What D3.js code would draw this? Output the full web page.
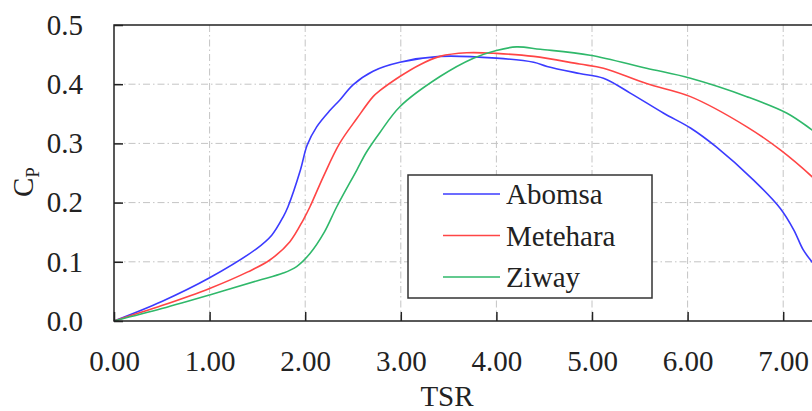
<!DOCTYPE html>
<html>
<head>
<meta charset="utf-8">
<script src="https://cdn.jsdelivr.net/npm/d3@7"></script>
<style>
  body { margin: 0; background: #fff; }
  svg { display: block; font-family: "Liberation Serif", serif; }
</style>
</head>
<body>
<svg id="chart" width="812" height="411"></svg>
<script>
// data: [TSR, Cp]
var abomsa = [[0,0],[0.5,0.033],[1.0,0.073],[1.49,0.122],[1.65,0.145],[1.77,0.176],[1.82,0.193],
    [1.95,0.255],[2.02,0.297],[2.12,0.328],[2.26,0.356],[2.36,0.373],[2.50,0.399],[2.71,0.422],
    [2.99,0.437],[3.41,0.447],[4.0,0.444],[4.39,0.437],[4.53,0.43],[4.87,0.418],[5.12,0.41],
    [5.40,0.385],[5.75,0.351],[6.03,0.326],[6.30,0.294],[6.69,0.238],[6.97,0.19],[7.11,0.154],
    [7.21,0.12],[7.31,0.098],[7.45,0.07]];
var metehara = [[0,0],[0.5,0.026],[1.0,0.055],[1.4,0.083],[1.63,0.103],[1.84,0.134],[1.98,0.171],
    [2.05,0.193],[2.19,0.244],[2.36,0.300],[2.54,0.342],[2.71,0.379],[2.78,0.389],[2.99,0.413],
    [3.2,0.433],[3.41,0.447],[3.69,0.453],[4.0,0.452],[4.39,0.447],[4.87,0.434],[5.12,0.427],
    [5.57,0.401],[6.03,0.379],[6.62,0.328],[6.97,0.289],[7.30,0.244],[7.45,0.22]];
var ziway = [[0,0],[0.5,0.021],[1.0,0.044],[1.5,0.068],[1.77,0.081],[1.91,0.092],[2.05,0.114],
    [2.2,0.15],[2.33,0.193],[2.54,0.255],[2.64,0.285],[2.78,0.318],[2.99,0.362],[3.41,0.413],
    [3.76,0.444],[4.0,0.457],[4.21,0.463],[4.46,0.459],[4.98,0.449],[5.57,0.427],[6.03,0.41],
    [6.62,0.379],[7.04,0.351],[7.30,0.323],[7.45,0.305]];

var seriesNames = ['Abomsa', 'Metehara', 'Ziway'];
var seriesColors = ['#3b3bff', '#ff4545', '#2fb86a'];
var xTicks = [0, 1, 2, 3, 4, 5, 6, 7];
var yTicks = [0, 0.1, 0.2, 0.3, 0.4, 0.5];

var svg = d3.select('#chart');
var plotLeft = 114, plotTop = 25, plotBottom = 321;

// the picture is cut at the right, the plot runs on to TSR = 8
var x = d3.scaleLinear().domain([0, 8]).range([plotLeft, plotLeft + 8 * 95.6]);
var y = d3.scaleLinear().domain([0, 0.5]).range([plotBottom, plotTop]);

// grid
var grid = svg.append('g')
    .attr('stroke', '#c4c4c4')
    .attr('stroke-width', 1)
    .attr('stroke-dasharray', '7,3,1.5,3');
grid.selectAll('line.gx')
    .data(xTicks.filter(d => d > 0))
    .enter().append('line')
        .attr('class', 'gx')
        .attr('x1', d => x(d)).attr('x2', d => x(d))
        .attr('y1', plotTop).attr('y2', plotBottom);
grid.selectAll('line.gy')
    .data(yTicks.filter(d => d > 0 && d < 0.5))
    .enter().append('line')
        .attr('class', 'gy')
        .attr('x1', plotLeft).attr('x2', x(8))
        .attr('y1', d => y(d)).attr('y2', d => y(d));

// curves
var line = d3.line()
    .x(d => x(d[0]))
    .y(d => y(d[1]))
    .curve(d3.curveCatmullRom.alpha(0.5));

svg.selectAll('path.series')
    .data([abomsa, metehara, ziway])
    .enter().append('path')
        .attr('class', 'series')
        .attr('d', line)
        .attr('fill', 'none')
        .attr('stroke', (d, i) => seriesColors[i])
        .attr('stroke-width', 1.6);

// frame
svg.append('rect')
    .attr('x', plotLeft).attr('y', plotTop)
    .attr('width', x(8) - plotLeft).attr('height', plotBottom - plotTop)
    .attr('fill', 'none')
    .attr('stroke', '#222')
    .attr('stroke-width', 1.5);

// axes, ticks inside
var xAxis = d3.axisBottom(x).tickValues(xTicks).tickSize(-9).tickPadding(29)
    .tickFormat(d3.format('.2f'));
var gx = svg.append('g').attr('transform', 'translate(0,' + plotBottom + ')').call(xAxis);
gx.select('.domain').remove();
gx.selectAll('line').attr('stroke', '#222').attr('stroke-width', 1.5);
gx.selectAll('text').attr('font-size', 29).attr('fill', '#222')
    .attr('font-family', '"Liberation Serif", serif');

var yAxis = d3.axisLeft(y).tickValues(yTicks).tickSize(-9).tickPadding(31)
    .tickFormat(d3.format('.1f'));
var gy = svg.append('g').attr('transform', 'translate(' + plotLeft + ',0)').call(yAxis);
gy.select('.domain').remove();
gy.selectAll('line').attr('stroke', '#222').attr('stroke-width', 1.5);
gy.selectAll('text').attr('font-size', 29).attr('fill', '#222')
    .attr('font-family', '"Liberation Serif", serif');

// axis titles
svg.append('text')
    .attr('x', 447).attr('y', 406)
    .attr('text-anchor', 'middle')
    .attr('font-size', 29).attr('fill', '#222')
    .text('TSR');

var yt = svg.append('text')
    .attr('transform', 'translate(33,182) rotate(-90)')
    .attr('text-anchor', 'middle')
    .attr('font-size', 29).attr('fill', '#222');
yt.append('tspan').text('C');
yt.append('tspan').attr('font-size', 19).attr('dy', 6).text('P');

// legend
var legend = svg.append('g');
legend.append('rect')
    .attr('x', 408).attr('y', 175)
    .attr('width', 244).attr('height', 123)
    .attr('fill', '#fff')
    .attr('stroke', '#333')
    .attr('stroke-width', 1.5);
var rows = legend.selectAll('g.row')
    .data(seriesNames)
    .enter().append('g')
        .attr('class', 'row')
        .attr('transform', (d, i) => 'translate(0,' + (194 + i * 41.5) + ')');
rows.append('line')
    .attr('x1', 443).attr('x2', 500)
    .attr('stroke', (d, i) => seriesColors[i])
    .attr('stroke-width', 1.6);
rows.append('text')
    .attr('x', 506).attr('y', 10)
    .attr('font-size', 29).attr('fill', '#222')
    .text(d => d);
</script>
</body>
</html>
